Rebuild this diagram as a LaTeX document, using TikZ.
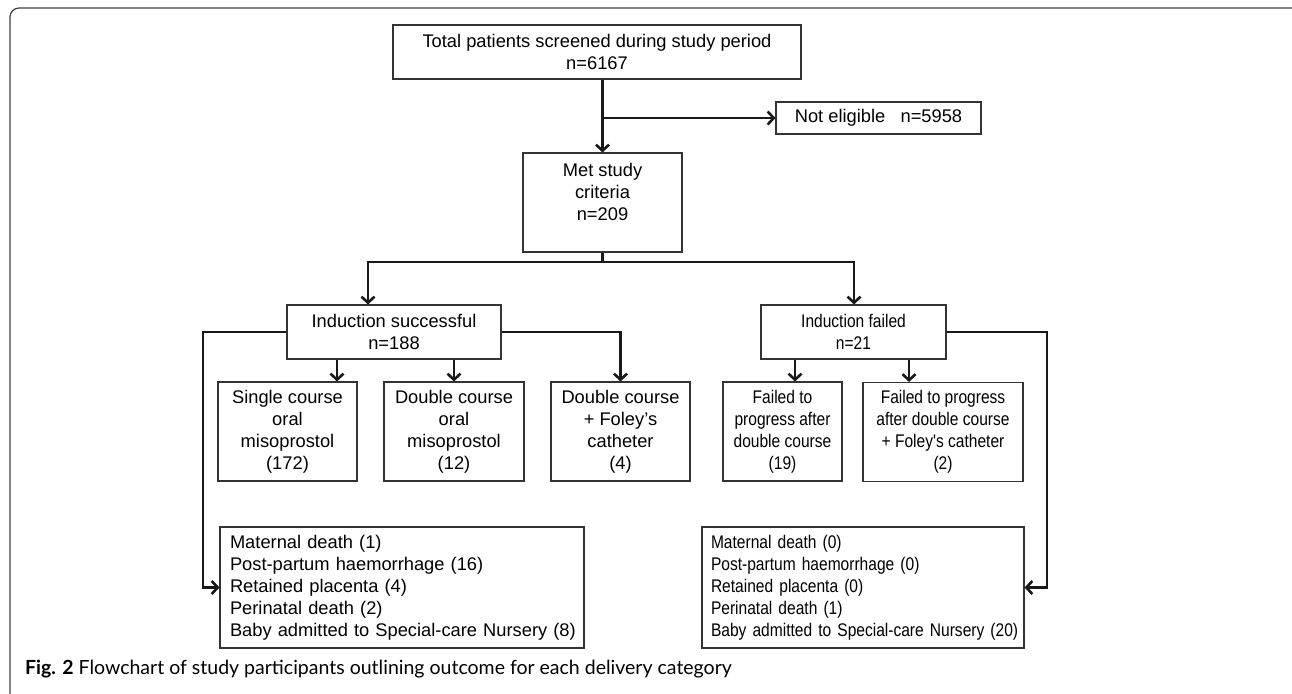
\documentclass[tikz,border=0pt]{standalone}
\usepackage{fontspec}
\setmainfont{Liberation Sans}
\newfontfamily\condfont[FakeStretch=0.85]{Liberation Sans}
\newfontfamily\capfont{Lato}
\usetikzlibrary{arrows.meta}
\begin{document}
\begin{tikzpicture}[x=1pt,y=-1pt,
  box/.style={draw=black!80, line width=1.1pt, inner sep=0pt, align=center,
    font=\fontsize{18.3}{22}\selectfont},
  cbox/.style={box, font=\condfont\fontsize{18.3}{22}\selectfont},
  flow/.style={line width=2.6pt, draw=black!90},
  arr/.style={flow, -{Straight Barb[length=6pt,width=13pt]}},
  frame/.style={line width=1.2pt, draw=black!75, rounded corners=9pt}
]
\clip (0,0) rectangle (1292,693);
\useasboundingbox (0,0) rectangle (1292,693);
\draw[frame] (10,710) -- (10,8) -- (1302,8) -- (1302,710);

% nodes
\node[box, minimum width=408pt, minimum height=54pt] (top) at (597,52)
  {Total patients screened during study period\\n=6167};
\node[box, minimum width=205pt, minimum height=32pt] (ne) at (878.5,118)
  {Not eligible \ \ n=5958};
\node[box, minimum width=159pt, minimum height=99pt] (met) at (602.5,202.5)
  {Met study\\criteria\\n=209\\~};
\node[box, minimum width=214pt, minimum height=54pt] (succ) at (394,332)
  {Induction successful\\n=188};
\node[cbox, minimum width=185pt, minimum height=54pt] (fail) at (853.5,332)
  {Induction failed\\n=21};
\node[box, minimum width=139pt, minimum height=99pt] (b1) at (287.5,431.5)
  {Single course\\oral\\misoprostol\\(172)};
\node[box, minimum width=140pt, minimum height=99pt] (b2) at (454,431.5)
  {Double course\\oral\\misoprostol\\(12)};
\node[box, minimum width=139pt, minimum height=99pt] (b3) at (620.5,431.5)
  {Double course\\+ Foley's\\catheter\\(4)};
\node[cbox, minimum width=119pt, minimum height=99pt] (f1) at (782.5,431.5)
  {Failed to\\progress after\\double course\\(19)};
\node[cbox, minimum width=160pt, minimum height=99pt] (f2) at (943,432)
  {Failed to progress\\after double course\\+ Foley's catheter\\(2)};
\node[box, align=left, text width=344pt, inner xsep=10pt, minimum height=121pt] (o1) at (402,587.5)
  {Maternal death (1)\\Post-partum haemorrhage (16)\\Retained placenta (4)\\Perinatal death (2)\\\mbox{Baby admitted to Special-care Nursery (8)}};
\node[cbox, align=left, text width=304pt, inner xsep=9pt, minimum height=121pt] (o2) at (863,587.5)
  {Maternal death (0)\\Post-partum haemorrhage (0)\\Retained placenta (0)\\Perinatal death (1)\\\mbox{Baby admitted to Special-care Nursery (20)}};
\node[anchor=base west, inner sep=0pt, font=\capfont\fontsize{19.5}{22}\selectfont] (cap) at (25,674)
  {\textbf{Fig. 2} Flowchart of study participants outlining outcome for each delivery category};

% helper coordinates
\coordinate (sj) at (368,262);
\coordinate (fj) at (854,262);
\coordinate (x1) at (337,0);
\coordinate (y1) at (795,0);
\coordinate (y2) at (909,0);
\coordinate (lb) at (203,0);
\coordinate (rb) at (1047,0);

% connectors
\draw[arr] (top.south -| met.north) -- (met.north);
\draw[arr] (met.north |- ne.west) -- (ne.west);
\draw[flow] (met.south) -- (met.south |- sj);
\draw[arr] (met.south |- sj) -- (sj) -- (sj |- succ.north);
\draw[arr] (met.south |- sj) -- (fj) -- (fj |- fail.north);
\draw[arr] (x1 |- succ.south) -- (x1 |- b1.north);
\draw[arr] (succ.south -| b2.north) -- (b2.north);
\draw[arr] (succ.east) -| (b3.north);
\draw[arr] (y1 |- fail.south) -- (y1 |- f1.north);
\draw[arr] (y2 |- fail.south) -- (y2 |- f2.north);
\draw[arr] (succ.west) -- (succ.west -| lb) |- (o1.west);
\draw[arr] (fail.east) -- (fail.east -| rb) |- (o2.east);
\end{tikzpicture}
\end{document}
